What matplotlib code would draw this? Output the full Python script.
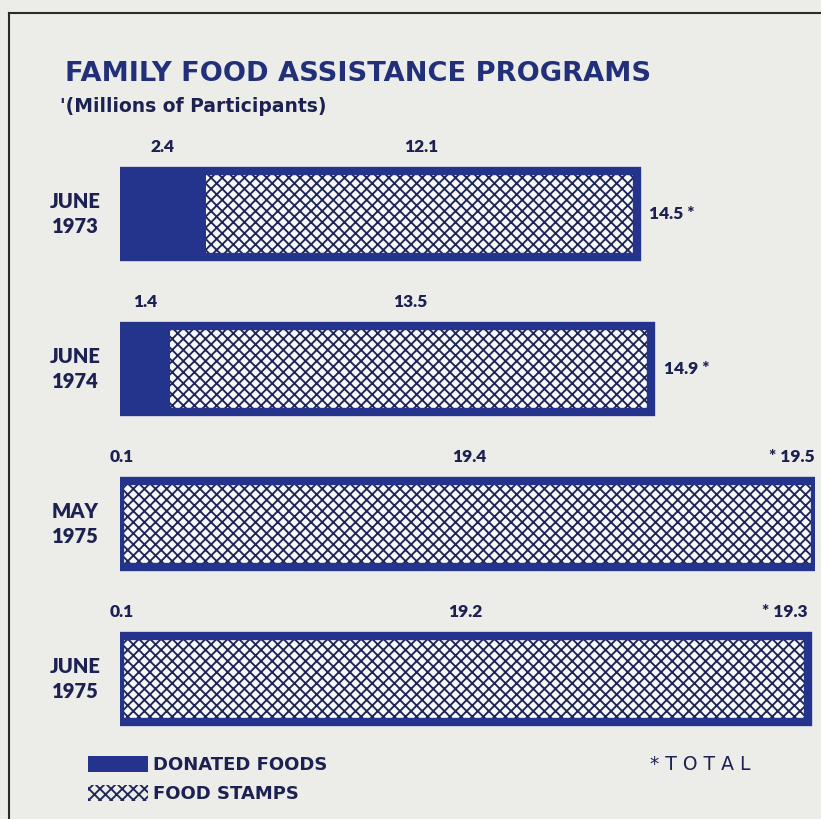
import matplotlib
matplotlib.use("Agg")
import matplotlib.pyplot as plt
from matplotlib.patches import Rectangle
from matplotlib.lines import Line2D

# data (millions of participants)
periods = ["JUNE\n1973", "JUNE\n1974", "MAY\n1975", "JUNE\n1975"]
donated = [2.4, 1.4, 0.1, 0.1]
stamps = [12.1, 13.5, 19.4, 19.2]
totals = [14.5, 14.9, 19.5, 19.3]

NAVY = "#24348C"
DARK = "#1C2152"
HATCH = "#1E2658"
BG = "#ECEDE9"
CELL = "#F7F8FA"

plt.rcParams["font.family"] = ["Lato", "DejaVu Sans"]
plt.rcParams["hatch.linewidth"] = 1.35
plt.rcParams["hatch.color"] = HATCH

W, H = 821, 819
fig = plt.figure(figsize=(W / 100, H / 100), dpi=100)
fig.patch.set_facecolor(BG)


def fx(px):
    return px / W


def fy(py):
    return 1 - py / H


# axes placed so that bar centres fall on the reference rows
step = 155
top_c = 214
ax = fig.add_axes([fx(120), fy(top_c + 3.6 * step),
                   fx(815) - fx(120), 4.2 * step / H])
ax.set_xlim(0, 19.5)
ax.set_ylim(3.6, -0.6)
ax.axis("off")
ax.patch.set_alpha(0)

ypos = list(range(len(periods)))
bh = 0.55

ax.barh(ypos, donated, height=bh, color=NAVY, linewidth=0)
ax.barh(ypos, stamps, left=donated, height=bh, color=CELL,
        edgecolor=HATCH, hatch="xxx", linewidth=0)
ax.barh(ypos, totals, height=bh, fill=False, edgecolor=NAVY, linewidth=6)

for i in ypos:
    ax.text(-1.25, i, periods[i], ha="center", va="center", fontsize=14.5,
            fontweight="heavy", color=DARK, linespacing=1.4)
    ax.text(donated[i] / 2, i - 0.43, f"{donated[i]:.1f}", ha="center",
            va="center", fontsize=12.5, fontweight="heavy", color=DARK)
    ax.text(donated[i] + stamps[i] / 2, i - 0.43, f"{stamps[i]:.1f}",
            ha="center", va="center", fontsize=12.5, fontweight="heavy", color=DARK)
    if totals[i] > 17:
        ax.text(totals[i], i - 0.43, f"* {totals[i]:.1f}", ha="right",
                va="center", fontsize=12.5, fontweight="heavy", color=DARK,
                clip_on=False)
    else:
        ax.text(totals[i] + 0.35, i, f"{totals[i]:.1f} *", ha="left",
                va="center", fontsize=12.5, fontweight="heavy", color=DARK)

# titles
fig.text(fx(65), fy(74), "FAMILY FOOD ASSISTANCE PROGRAMS", fontsize=19.6,
         fontweight="bold", color="#22307A", va="center", ha="left",
         family="DejaVu Sans")
fig.text(fx(60), fy(106), "'(Millions of Participants)", fontsize=13.5,
         fontweight="bold", color=DARK, va="center", ha="left",
         family="DejaVu Sans")

# legend
fig.add_artist(Rectangle((fx(88), fy(772)), fx(60), 16 / H, transform=fig.transFigure,
                         facecolor=NAVY, linewidth=0))
fig.add_artist(Rectangle((fx(88), fy(801)), fx(60), 16 / H, transform=fig.transFigure,
                         facecolor=BG, edgecolor=HATCH, hatch="xxx", linewidth=0))
fig.text(fx(153), fy(765), "DONATED FOODS", fontsize=13, fontweight="bold",
         color=DARK, va="center", ha="left", family="DejaVu Sans")
fig.text(fx(153), fy(794), "FOOD STAMPS", fontsize=13, fontweight="bold",
         color=DARK, va="center", ha="left", family="DejaVu Sans")
fig.text(fx(650), fy(764), "* T O T A L", fontsize=13.5, color=DARK,
         va="center", ha="left", family="DejaVu Sans")

# frame around the chart
fig.add_artist(Line2D([fx(9), fx(9)], [fy(13), 0], transform=fig.transFigure,
                      color="#2B2B2B", linewidth=1.5))
fig.add_artist(Line2D([fx(9), 1], [fy(13), fy(13)], transform=fig.transFigure,
                      color="#2B2B2B", linewidth=1.5))

fig.savefig("out.png", dpi=100, facecolor=BG)
